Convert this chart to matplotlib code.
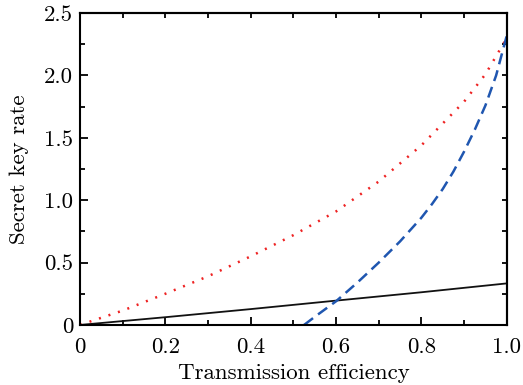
import numpy as np
import matplotlib
matplotlib.use("Agg")
import matplotlib.pyplot as plt
from matplotlib.ticker import MultipleLocator, FuncFormatter

plt.rcParams['font.family'] = ['cmr10', 'DejaVu Serif']
plt.rcParams['mathtext.fontset'] = 'cm'
plt.rcParams['axes.formatter.use_mathtext'] = True

# values
eta_black = [0.0, 0.2, 0.4, 0.6, 0.8, 1.0]
rate_black = [0.0, 0.062, 0.127, 0.195, 0.262, 0.333]

eta_red = [0.0, 0.1, 0.2, 0.3, 0.4, 0.5, 0.6, 0.7, 0.8, 0.9, 0.95, 1.0]
rate_red = [0.0, 0.115, 0.25, 0.39, 0.55, 0.72, 0.91, 1.15, 1.44, 1.79, 2.01, 2.30]

eta_blue = [0.525, 0.55, 0.6, 0.65, 0.7, 0.75, 0.8, 0.825, 0.85, 0.875, 0.9, 0.925, 0.95, 0.975, 1.0]
rate_blue = [0.0, 0.065, 0.19, 0.34, 0.50, 0.67, 0.86, 0.97, 1.09, 1.23, 1.39, 1.565, 1.76, 2.0, 2.32]

fig = plt.figure(figsize=(5.23, 3.85), dpi=100)
ax = fig.add_axes([0.153, 0.156, 0.816, 0.81])

ax.plot(eta_black, rate_black, color='#111111', lw=1.3)
ax.plot(eta_red, rate_red, color='#ee2222', lw=1.8, linestyle=(0, (0.8, 3.2)))
ax.plot(eta_blue, rate_blue, color='#1f56b0', lw=1.8, linestyle=(0, (4.5, 2.5)))

ax.set_xlim(0, 1.0)
ax.set_ylim(0, 2.5)
ax.xaxis.set_major_locator(MultipleLocator(0.2))
ax.xaxis.set_minor_locator(MultipleLocator(0.1))
ax.yaxis.set_major_locator(MultipleLocator(0.5))
ax.yaxis.set_minor_locator(MultipleLocator(0.25))
fmt = FuncFormatter(lambda v, p: '0' if abs(v) < 1e-9 else '%.1f' % v)
ax.xaxis.set_major_formatter(fmt)
ax.yaxis.set_major_formatter(fmt)
ax.tick_params(which='major', direction='in', length=6, width=1.3, labelsize=16.5, pad=5)
ax.tick_params(axis='x', which='major', pad=9)
ax.tick_params(which='minor', direction='in', length=3.5, width=1.3)

top = ax.secondary_xaxis('top')
top.set_xticks(np.arange(0, 1.01, 0.1))
top.tick_params(direction='in', length=3.5, width=1.3, labeltop=False)
right = ax.secondary_yaxis('right')
right.set_yticks(np.arange(0, 2.51, 0.25))
right.tick_params(direction='in', length=3.5, width=1.3, labelright=False)
for a in (ax, top, right):
    for s in a.spines.values():
        s.set_linewidth(1.5)

ax.set_xlabel('Transmission efficiency', fontsize=16.5, labelpad=5)
ax.set_ylabel('Secret key rate', fontsize=16.5, labelpad=11)

fig.savefig('out.png', dpi=100)
